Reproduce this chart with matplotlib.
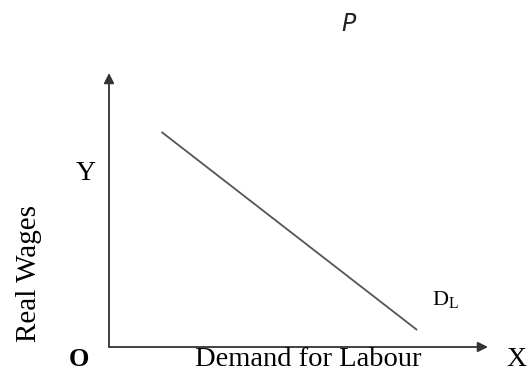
import matplotlib
matplotlib.use('Agg')
import matplotlib.pyplot as plt

# demand curve for labour (origin = 0,0; axes run to 10)
labour = [1.385, 8.13]
wages = [7.85, 0.62]
x_max = 10
y_max = 10

fig = plt.figure(figsize=(5.30, 3.72), dpi=100)
ax = fig.add_axes([109 / 530, 25 / 372, 379 / 530, 274 / 372])
ax.set_xlim(0, x_max)
ax.set_ylim(0, y_max)
ax.axis('off')

# the two axes with arrow heads
arrow = dict(arrowstyle='-|>', color='#333333', lw=1.3, mutation_scale=15,
             shrinkA=0, shrinkB=0)
ax.annotate('', xy=(x_max, 0), xytext=(0, 0), arrowprops=arrow, annotation_clip=False)
ax.annotate('', xy=(0, y_max), xytext=(0, 0), arrowprops=arrow, annotation_clip=False)

# demand for labour line
ax.plot(labour, wages, color='#555555', lw=1.3, solid_capstyle='butt', clip_on=False)

serif = 'Liberation Serif'
def px(x, y):
    return x / 530, 1 - y / 372

fig.text(*px(348, 24), 'P', family='DejaVu Sans', style='italic', fontsize=17,
         ha='center', va='center', color='#222222')
fig.text(*px(86, 180), 'Y', family=serif, fontsize=20, ha='center', va='baseline')
fig.text(*px(29, 274), 'Real Wages', family=serif, fontsize=21, rotation=90,
         ha='center', va='center')
fig.text(*px(79, 366), 'O', family=serif, fontsize=19, weight='bold',
         ha='center', va='baseline')
fig.text(*px(308, 366), 'Demand for Labour', family=serif, fontsize=20.5,
         ha='center', va='baseline')
fig.text(*px(516, 366), 'X', family=serif, fontsize=20, ha='center', va='baseline')
fig.text(*px(432, 305), r'D$_\mathregular{L}$', family=serif, fontsize=16,
         ha='left', va='baseline')

fig.savefig('out.png', dpi=100)
